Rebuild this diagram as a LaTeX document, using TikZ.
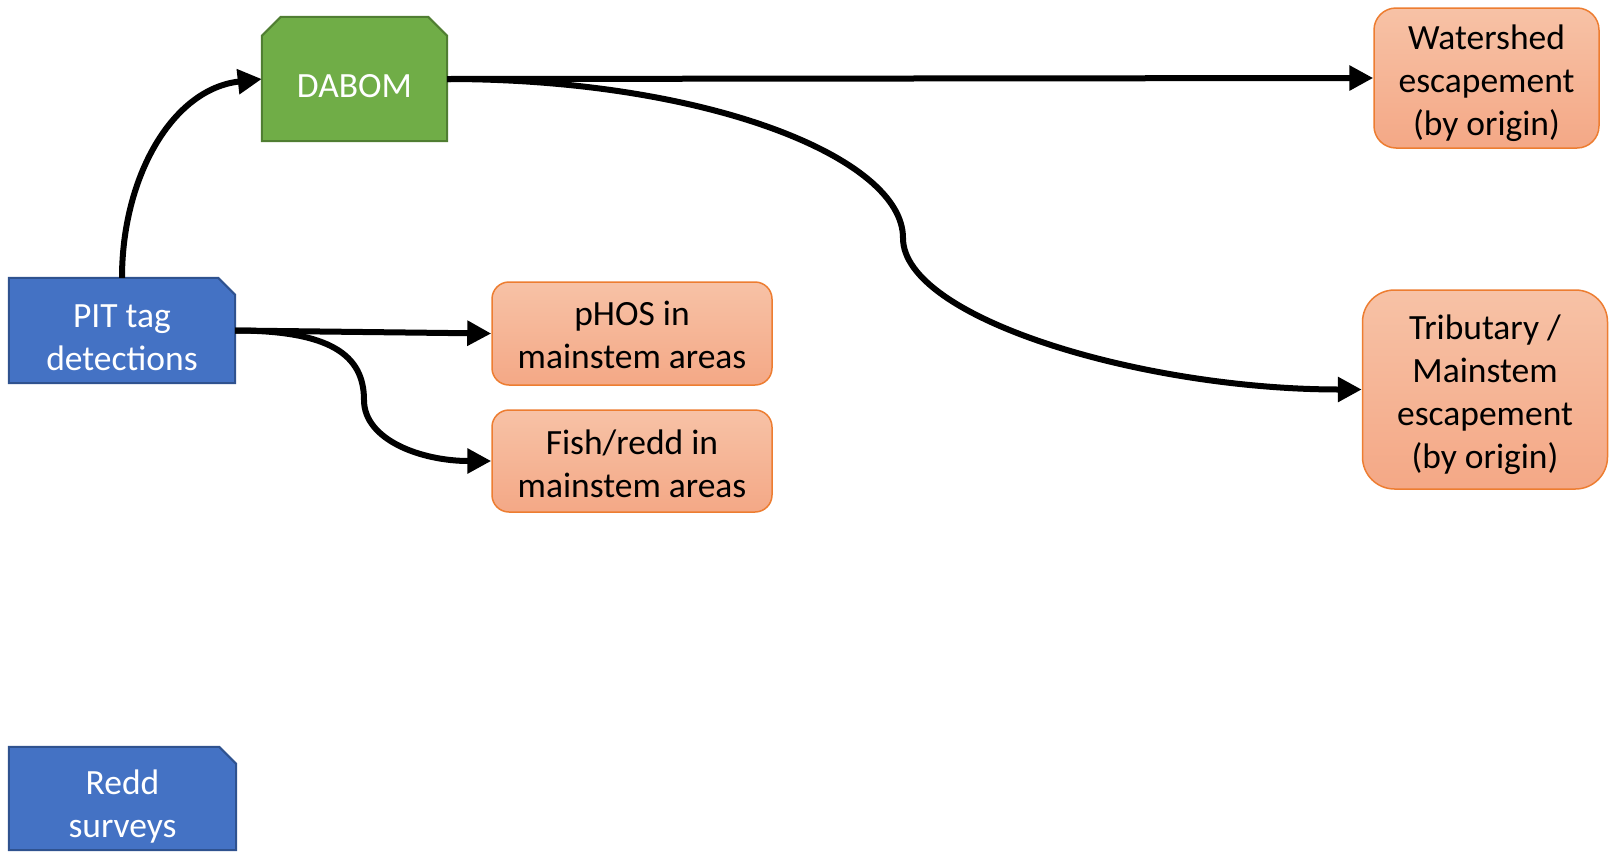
\documentclass[tikz,border=0pt]{standalone}
\usepackage{fontspec}
\setmainfont{Carlito}
\usetikzlibrary{arrows.meta}
\definecolor{bluef}{HTML}{4472C4}
\definecolor{blued}{HTML}{2F528F}
\definecolor{greenf}{HTML}{70AD47}
\definecolor{greend}{HTML}{507E32}
\definecolor{orl}{HTML}{F7C2A6}
\definecolor{ord}{HTML}{F4A886}
\definecolor{orb}{HTML}{ED7D31}
\begin{document}
\begin{tikzpicture}[x=1pt,y=-1pt,
  txt/.style={font=\fontsize{35.5}{43}\selectfont, align=center, inner sep=0pt},
  wtxt/.style={txt, text=white},
  btxt/.style={txt, text=black},
  frame/.style={rectangle, inner sep=0pt},
  bluestyle/.style={fill=bluef, draw=blued, line width=2pt},
  greenstyle/.style={fill=greenf, draw=greend, line width=2pt},
  orbox/.style={rectangle, inner sep=0pt, top color=orl, bottom color=ord, draw=orb, line width=1.5pt},
  arr/.style={line width=6pt, -{Triangle[length=24pt,width=24pt]}}
]
\useasboundingbox (0,0) rectangle (1609,852);

% box frames
\node[frame, minimum width=185pt, minimum height=124pt] (dabom) at (354.5,79) {};
\node[frame, minimum width=226pt, minimum height=105pt] (pit) at (122,330.5) {};
\node[frame, minimum width=227pt, minimum height=103pt] (redd) at (122.5,798.5) {};
\node[orbox, rounded corners=17pt, minimum width=280pt, minimum height=103pt] (phos) at (632,333.5) {};
\node[orbox, rounded corners=17pt, minimum width=280pt, minimum height=102pt] (fish) at (632,461) {};
\node[orbox, rounded corners=22pt, minimum width=225pt, minimum height=140pt] (ws) at (1486.5,78) {};
\node[orbox, rounded corners=32pt, minimum width=245pt, minimum height=199pt] (trib) at (1485,389.5) {};

% chamfered outlines
\path[greenstyle] (dabom.south west) -- ([yshift=-19pt]dabom.north west) -- ([xshift=19pt]dabom.north west)
  -- ([xshift=-19pt]dabom.north east) -- ([yshift=-19pt]dabom.north east) -- (dabom.south east) -- cycle;
\path[bluestyle] (pit.south west) -- (pit.north west) -- ([xshift=-17pt]pit.north east)
  -- ([yshift=-17pt]pit.north east) -- (pit.south east) -- cycle;
\path[bluestyle] (redd.south west) -- (redd.north west) -- ([xshift=-17pt]redd.north east)
  -- ([yshift=-17pt]redd.north east) -- (redd.south east) -- cycle;

% texts
\node[wtxt] (dabomt) at ([yshift=-7pt]dabom.center) {DABOM};
\node[wtxt] (pitt) at ([yshift=-7.5pt]pit.center) {PIT tag\\detections};
\node[wtxt] (reddt) at ([yshift=-8pt]redd.center) {Redd\\surveys};
\node[btxt] (phost) at ([yshift=-1.5pt]phos.center) {pHOS in\\mainstem areas};
\node[btxt] (fisht) at ([yshift=-3pt]fish.center) {Fish/redd in\\mainstem areas};
\node[btxt] (wst) at ([yshift=-5pt]ws.center) {Watershed\\escapement\\(by origin)};
\node[btxt] (tribt) at ([yshift=-5pt]trib.center) {Tributary /\\Mainstem\\escapement\\(by origin)};

\coordinate (m1) at (364,400);
\coordinate (m2) at (903,238);

\draw[arr] (pit.north) .. controls +(0,-100) and +(-90,10) .. (dabom.west);
\draw[arr] (dabom.east) -- (ws.west);
\draw[arr] (dabom.east) .. controls +(260,0) and +(0,-80) .. (m2) .. controls +(0,80) and +(-220,0) .. (trib.west);
\draw[arr] (pit.east) -- (phos.west);
\draw[arr] (pit.east) .. controls +(95,0) and +(0,-45) .. (m1) .. controls +(0,40) and +(-70,0) .. (fish.west);
\end{tikzpicture}
\end{document}
